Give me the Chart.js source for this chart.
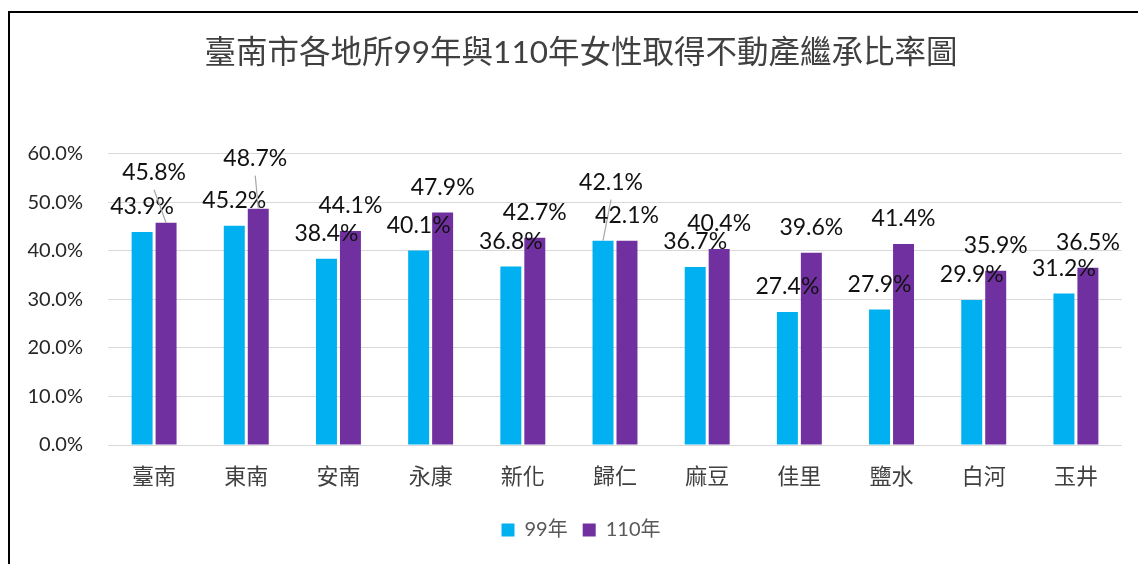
<!DOCTYPE html>
<html>
<head>
<meta charset="utf-8">
<script src="https://cdn.jsdelivr.net/npm/chart.js@4"></script>
<style>
html,body{margin:0;padding:0;background:#fff;overflow:hidden;}
#frame{position:absolute;left:8px;top:11px;width:1400px;height:800px;border-left:2px solid #000;border-top:2px solid #000;}
#wrap{position:absolute;left:0;top:0;width:1162px;height:564px;}
</style>
</head>
<body>
<div id="frame"></div>
<div id="wrap"><canvas id="c"></canvas></div>
<script>
'use strict';

const TITLE='臺南市各地所99年與110年女性取得不動產繼承比率圖';
const places=['臺南','東南','安南','永康','新化','歸仁','麻豆','佳里','鹽水','白河','玉井'];
const y99=[43.9,45.2,38.4,40.1,36.8,42.1,36.7,27.4,27.9,29.9,31.2];
const y110=[45.8,48.7,44.1,47.9,42.7,42.1,40.4,39.6,41.4,35.9,36.5];
const yTicks=[0,10,20,30,40,50,60];

// labels that were dragged away from their bar in the original (dataset:index -> dx,dy)
const nudge={'1:0':[-12,-25],'1:1':[-3,-25],'0:5':[8,-33]};

const FONT='Lato, "Noto Sans CJK TC", sans-serif';
const CJK='"Noto Sans CJK TC", sans-serif';

const valueLabels={
  id:'valueLabels',
  afterDatasetsDraw(chart){
    const ctx=chart.ctx;
    ctx.save();
    ctx.font='23px '+FONT;
    ctx.textAlign='center'; ctx.textBaseline='middle';
    chart.data.datasets.forEach((ds,di)=>{
      chart.getDatasetMeta(di).data.forEach((bar,i)=>{
        const n=nudge[di+':'+i];
        const x=bar.x+(n?n[0]:0), y=bar.y-25+(n?n[1]:0);
        if(n){
          ctx.strokeStyle='#A6A6A6'; ctx.lineWidth=1.2;
          ctx.beginPath(); ctx.moveTo(x,y+17); ctx.lineTo(bar.x,bar.y); ctx.stroke();
        }
        ctx.fillStyle='#111';
        ctx.fillText(ds.data[i].toFixed(1)+'%',x,y);
      });
    });
    ctx.restore();
  }
};

new Chart(document.getElementById('c'),{
  type:'bar',
  data:{labels:places,datasets:[
    {label:'99年',data:y99,backgroundColor:'#00B0F0',categoryPercentage:0.52,barPercentage:0.875},
    {label:'110年',data:y110,backgroundColor:'#7030A0',categoryPercentage:0.52,barPercentage:0.875}
  ]},
  options:{
    responsive:true,maintainAspectRatio:false,animation:false,
    layout:{padding:{left:10,right:10,top:0,bottom:14}},
    plugins:{
      title:{display:true,text:TITLE,color:'#404040',font:{family:FONT,size:31.5,weight:'normal'},padding:{top:34,bottom:82}},
      legend:{position:'bottom',labels:{color:'#595959',font:{family:FONT,size:20},boxWidth:13,boxHeight:13,padding:15}},
      tooltip:{enabled:false}
    },
    scales:{
      x:{
        grid:{display:false,drawTicks:false},border:{display:false},
        ticks:{color:'#404040',font:{family:CJK,size:22},padding:17},
        afterFit(s){s.height=60;}
      },
      y:{
        min:0,max:60,
        afterBuildTicks(s){s.ticks=yTicks.map(v=>({value:v}));},
        ticks:{color:'#262626',font:{family:FONT,size:20},padding:25,callback:v=>v.toFixed(1)+'%'},
        grid:{color:'#D9D9D9',drawTicks:false},border:{display:false},
        afterFit(s){s.width=98;}
      },
      // empty right-hand axis, only reserves the blank strip right of the plot
      yR:{
        position:'right',min:0,max:60,
        grid:{display:false,drawTicks:false},border:{display:false},ticks:{display:false},
        afterFit(s){s.width=30;}
      }
    }
  },
  plugins:[valueLabels]
});
</script>
</body>
</html>
